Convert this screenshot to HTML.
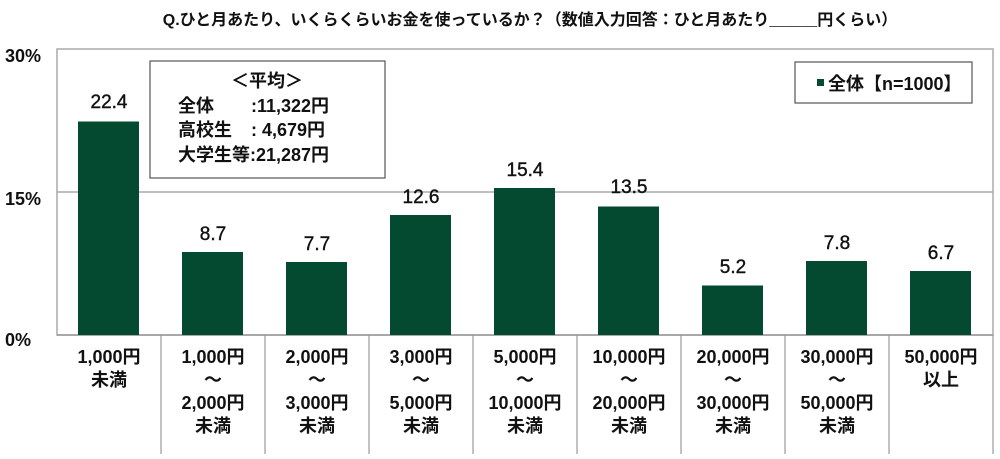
<!DOCTYPE html>
<html><head><meta charset="utf-8"><style>
body{margin:0;background:#fff;width:1000px;height:454px;overflow:hidden}
svg text{font-family:"Liberation Sans","Noto Sans CJK JP",sans-serif}
</style></head><body>
<svg width="1000" height="454" xmlns="http://www.w3.org/2000/svg">
<text x="530" y="25" font-size="16" font-weight="bold" text-anchor="middle" fill="#111">Q.ひと月あたり、いくらくらいお金を使っているか？（数値入力回答：ひと月あたり＿＿＿円くらい）</text>
<rect x="57" y="49" width="936" height="286" fill="none" stroke="#aaa" stroke-width="1.5"/>
<line x1="57" y1="192" x2="993" y2="192" stroke="#aaa" stroke-width="1.5"/>
<line x1="57" y1="335" x2="993" y2="335" stroke="#999" stroke-width="1.5"/>
<g font-size="18" font-weight="bold" fill="#111">
<text x="5" y="62">30%</text><text x="5" y="205">15%</text><text x="5" y="346">0%</text>
</g>
<g stroke="#999" stroke-width="1.2">
<line x1="161" y1="335" x2="161" y2="454"/><line x1="265" y1="335" x2="265" y2="454"/><line x1="369" y1="335" x2="369" y2="454"/><line x1="473" y1="335" x2="473" y2="454"/><line x1="577" y1="335" x2="577" y2="454"/><line x1="681" y1="335" x2="681" y2="454"/><line x1="785" y1="335" x2="785" y2="454"/><line x1="889" y1="335" x2="889" y2="454"/><line x1="993" y1="335" x2="993" y2="454"/>
</g>
<g fill="#034a30">
<rect x="78" y="121.5" width="61" height="213.5"/>
<rect x="182" y="252" width="61" height="83"/>
<rect x="286" y="262" width="61" height="73"/>
<rect x="390" y="215" width="61" height="120"/>
<rect x="494" y="188" width="61" height="147"/>
<rect x="598" y="206.5" width="61" height="128.5"/>
<rect x="702" y="285.5" width="61" height="49.5"/>
<rect x="806" y="261" width="61" height="74"/>
<rect x="910" y="271" width="61" height="64"/>
</g>
<g font-size="19" text-anchor="middle" fill="#111" stroke="#111" stroke-width="0.4">
<text x="109" y="108">22.4</text><text x="213" y="240">8.7</text><text x="317" y="250">7.7</text><text x="421" y="203">12.6</text><text x="525" y="176">15.4</text><text x="629" y="193">13.5</text><text x="733" y="273">5.2</text><text x="837" y="249">7.8</text><text x="941" y="259">6.7</text>
</g>
<rect x="150" y="61" width="235" height="117" fill="#fff" stroke="#555" stroke-width="1.2"/>
<g font-size="18" font-weight="bold" fill="#111">
<text x="267" y="87" text-anchor="middle">＜平均＞</text>
<text x="178" y="112">全体</text><text x="251" y="112">:11,322円</text>
<text x="178" y="136">高校生</text><text x="251" y="136">:  4,679円</text>
<text x="178" y="161">大学生等:21,287円</text>
</g>
<rect x="795" y="62" width="177" height="41" fill="#fff" stroke="#555" stroke-width="1.2"/>
<rect x="817" y="79" width="7" height="7" fill="#034a30"/>
<text x="828" y="90" font-size="18" font-weight="bold" fill="#111">全体【n=1000】</text>
<g font-size="18" font-weight="bold" text-anchor="middle" fill="#111">
<text x="109" y="363">1,000円</text><text x="109" y="386">未満</text>
<text x="213" y="363">1,000円</text><text x="213" y="386">～</text><text x="213" y="409">2,000円</text><text x="213" y="432">未満</text>
<text x="317" y="363">2,000円</text><text x="317" y="386">～</text><text x="317" y="409">3,000円</text><text x="317" y="432">未満</text>
<text x="421" y="363">3,000円</text><text x="421" y="386">～</text><text x="421" y="409">5,000円</text><text x="421" y="432">未満</text>
<text x="525" y="363">5,000円</text><text x="525" y="386">～</text><text x="525" y="409">10,000円</text><text x="525" y="432">未満</text>
<text x="629" y="363">10,000円</text><text x="629" y="386">～</text><text x="629" y="409">20,000円</text><text x="629" y="432">未満</text>
<text x="733" y="363">20,000円</text><text x="733" y="386">～</text><text x="733" y="409">30,000円</text><text x="733" y="432">未満</text>
<text x="837" y="363">30,000円</text><text x="837" y="386">～</text><text x="837" y="409">50,000円</text><text x="837" y="432">未満</text>
<text x="941" y="363">50,000円</text><text x="941" y="386">以上</text>
</g>
</svg>
</body></html>
